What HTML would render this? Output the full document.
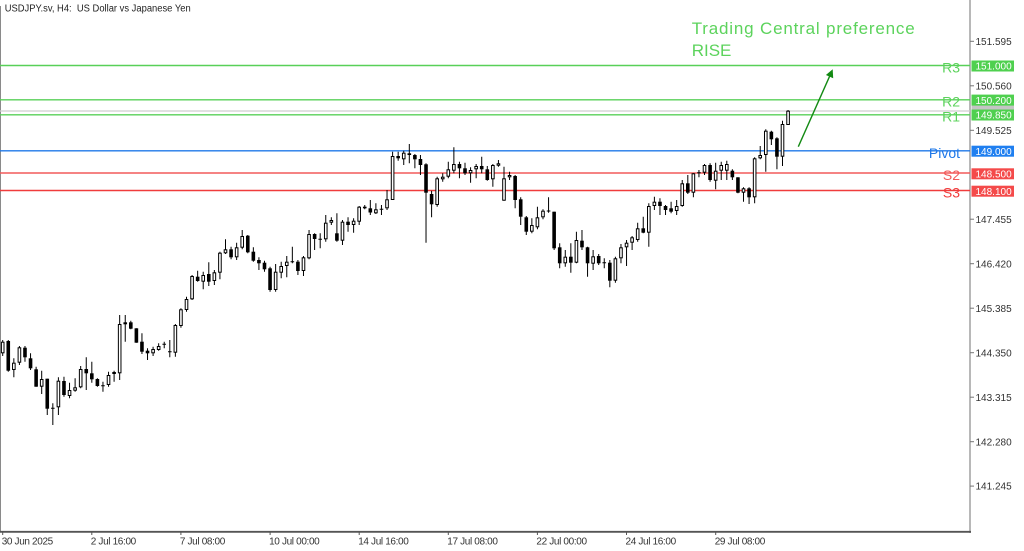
<!DOCTYPE html>
<html>
<head>
<meta charset="utf-8">
<style>
html,body{margin:0;padding:0;background:#fff;overflow:hidden;}
svg{display:block;}
text{font-family:"Liberation Sans",sans-serif;}
</style>
</head>
<body>
<svg width="1024" height="551" viewBox="0 0 1024 551" xmlns="http://www.w3.org/2000/svg">
<rect x="0" y="0" width="1024" height="551" fill="#fff"/>
<!-- frame -->
<line x1="0.5" y1="6" x2="0.5" y2="532" stroke="#8a8a8a" stroke-width="1"/>
<line x1="970" y1="0" x2="970" y2="533" stroke="#a0a0a0" stroke-width="1.5"/>
<line x1="0" y1="531.8" x2="971" y2="531.8" stroke="#555" stroke-width="1.8"/>

<!-- title -->
<text x="4.7" y="11.7" font-size="10" fill="#222" textLength="186" lengthAdjust="spacingAndGlyphs" xml:space="preserve">USDJPY.sv, H4:  US Dollar vs Japanese Yen</text>

<!-- level lines -->
<line x1="0" y1="65.5" x2="970" y2="65.5" stroke="#58d058" stroke-width="1.4"/>
<line x1="0" y1="99.8" x2="970" y2="99.8" stroke="#58d058" stroke-width="1.4"/>
<line x1="0" y1="111" x2="970" y2="111" stroke="#cfcfcf" stroke-width="1.2"/>
<line x1="0" y1="114.8" x2="970" y2="114.8" stroke="#58d058" stroke-width="1.4"/>
<line x1="0" y1="150.8" x2="970" y2="150.8" stroke="#1f78e8" stroke-width="1.4"/>
<line x1="0" y1="173" x2="970" y2="173" stroke="#f25a5a" stroke-width="1.4"/>
<line x1="0" y1="190.5" x2="970" y2="190.5" stroke="#f03c3c" stroke-width="1.4"/>

<!-- wicks -->
<path fill="none" stroke="#000" stroke-width="1" d="M2.7 340V356M8.27 340V371.7M13.84 358.3V377.3M19.41 346V365M24.98 346V361.7M30.55 353.3V370M36.12 366.7V386.7M41.69 370.7V394M47.26 378.7V415M52.83 403.3V425M58.4 377.3V415M63.97 376.7V396.7M69.54 382.7V398.3M75.11 378.3V391.7M80.68 366V388.3M86.25 357.3V390M91.82 361.7V382.7M97.39 378.3V386.7M102.96 381.7V391.7M108.53 371.7V386.7M114.1 370.7V381.7M119.67 315V380M125.24 315V341.7M130.81 320.7V329.3M136.38 328.3V342.7M141.95 333.3V354M147.52 348.3V360M153.09 346.7V356M158.66 343.3V350.7M164.23 341.7V348.3M169.8 340V357.3M175.37 324V356.7M180.94 308.3V327.7M186.51 296.7V311.7M192.08 275V300M197.65 270.7V281.7M203.22 271.7V289.3M208.79 262.3V286M214.36 270V285M219.93 251.7V279.3M225.5 239.3V254M231.07 246.7V259.3M236.64 242.7V260M242.21 230V249.3M247.78 235V253.3M253.35 247.3V261.7M258.92 257.3V270M264.49 260.7V271.7M270.06 266.7V291.7M275.63 264V291.7M281.2 261.7V278.3M286.77 256V277.3M292.34 246.7V263.3M297.91 260V275M303.48 256V276M309.05 230V259.3M314.62 233.3V250M320.19 233.3V248.3M325.76 215V241.7M331.33 217.3V225M336.9 213.3V241.7M342.47 220V245M348.04 217.3V231.7M353.61 218.3V232.7M359.18 206V225M364.75 205V209.3M370.32 200V215M375.89 203.3V214M381.46 205V215M387.03 190V210M392.6 151.7V200M398.17 151.7V160.7M403.74 150.7V165M409.31 144V163.3M414.88 154V168.3M420.45 155V175M426.02 163.3V242.7M431.59 190.7V217.3M437.16 176.7V206.7M442.73 173.3V181.7M448.3 161.7V178.3M453.87 147.3V173.3M459.44 161.7V178.3M465.01 162.7V175M470.58 167.3V182.7M476.15 164V178.3M481.72 156.7V173.3M487.29 166V180.7M492.86 164V186.7M498.43 160V166.7M504 166.7V200.7M509.57 171.7V180M515.14 175V208.3M520.71 197.3V225M526.28 216V235M531.85 218.3V233.3M537.42 206.7V229.3M542.99 209.3V219.3M548.56 197.3V212.7M554.13 211.7V250M559.7 243.3V268.3M565.27 250V266.7M570.84 243.3V272.7M576.41 231.7V263.3M581.98 230V250M587.55 246.7V276.7M593.12 250V270M598.69 254V265M604.26 258.3V268.3M609.83 260V287.3M615.4 256.7V282.7M620.97 244V263.3M626.54 240V266M632.11 236V250M637.68 222.7V241.7M643.25 216.7V233.3M648.82 203.3V246.7M654.39 196.7V210M659.96 198.3V215M665.53 205V215M671.1 201.7V213.3M676.67 200V215M682.24 180V206.7M687.81 175V194M693.38 173.3V197.3M698.95 170V177.3M704.52 164V175M710.09 163.3V181.7M715.66 162.7V189.3M721.23 161.7V180M726.8 160.7V180M732.37 169.3V180M737.94 177.3V193.3M743.51 187.3V201.7M749.08 187.3V204M754.65 157.3V203.3M760.22 146V159.3M765.79 129.3V171.7M771.36 130.7V145M776.93 137.3V169.3M782.5 120.7V166M788.07 110V125"/>

<!-- doji bars -->
<path fill="none" stroke="#000" stroke-width="1" d="M51.03 408.3h3.6M101.16 385.7h3.6M162.43 344.3h3.6M168 351.7h3.6M290.54 261.7h3.6M318.39 239.3h3.6M379.66 209.3h3.6M546.76 211h3.6M602.46 262.7h3.6M697.15 172.7h3.6"/>

<!-- black bodies -->
<g fill="#000">
<rect x="6.47" y="341" width="3.6" height="29.7"/>
<rect x="23.18" y="347.7" width="3.6" height="9.6"/>
<rect x="28.75" y="358.3" width="3.6" height="10"/>
<rect x="34.32" y="369.3" width="3.6" height="17.4"/>
<rect x="45.46" y="378.7" width="3.6" height="30"/>
<rect x="62.17" y="381" width="3.6" height="14"/>
<rect x="84.45" y="369" width="3.6" height="4.3"/>
<rect x="90.02" y="373.3" width="3.6" height="6"/>
<rect x="95.59" y="379" width="3.6" height="7"/>
<rect x="129.01" y="322.3" width="3.6" height="6.4"/>
<rect x="134.58" y="328.3" width="3.6" height="14.4"/>
<rect x="140.15" y="341.7" width="3.6" height="10"/>
<rect x="145.72" y="350.7" width="3.6" height="2.6"/>
<rect x="195.85" y="276.7" width="3.6" height="4.3"/>
<rect x="206.99" y="274" width="3.6" height="7.7"/>
<rect x="229.27" y="249.3" width="3.6" height="8"/>
<rect x="245.98" y="235.7" width="3.6" height="16.6"/>
<rect x="251.55" y="251.7" width="3.6" height="9"/>
<rect x="257.12" y="260" width="3.6" height="3.3"/>
<rect x="262.69" y="262.7" width="3.6" height="6.6"/>
<rect x="268.26" y="268.3" width="3.6" height="21.7"/>
<rect x="296.11" y="261.7" width="3.6" height="9.3"/>
<rect x="312.82" y="234" width="3.6" height="5"/>
<rect x="335.1" y="233.3" width="3.6" height="7.4"/>
<rect x="346.24" y="221.7" width="3.6" height="3.3"/>
<rect x="362.95" y="206.7" width="3.6" height="1.6"/>
<rect x="368.52" y="208.3" width="3.6" height="4.2"/>
<rect x="396.37" y="156" width="3.6" height="2.3"/>
<rect x="407.51" y="153.3" width="3.6" height="1.7"/>
<rect x="413.08" y="155" width="3.6" height="4.3"/>
<rect x="418.65" y="159" width="3.6" height="6"/>
<rect x="424.22" y="164.3" width="3.6" height="28.4"/>
<rect x="429.79" y="194" width="3.6" height="10.3"/>
<rect x="457.64" y="164" width="3.6" height="4.3"/>
<rect x="463.21" y="168.3" width="3.6" height="5"/>
<rect x="479.92" y="166" width="3.6" height="3.3"/>
<rect x="485.49" y="169.3" width="3.6" height="10.7"/>
<rect x="513.34" y="176" width="3.6" height="24"/>
<rect x="518.91" y="199.3" width="3.6" height="17.4"/>
<rect x="524.48" y="217.3" width="3.6" height="14.4"/>
<rect x="552.33" y="211.7" width="3.6" height="36.6"/>
<rect x="557.9" y="247.3" width="3.6" height="16"/>
<rect x="569.04" y="256.7" width="3.6" height="6"/>
<rect x="580.18" y="240.7" width="3.6" height="6.6"/>
<rect x="585.75" y="247.3" width="3.6" height="16"/>
<rect x="596.89" y="256" width="3.6" height="7.3"/>
<rect x="608.03" y="262.7" width="3.6" height="18"/>
<rect x="641.45" y="228.3" width="3.6" height="4.4"/>
<rect x="658.16" y="201.7" width="3.6" height="4.3"/>
<rect x="663.73" y="206" width="3.6" height="4"/>
<rect x="669.3" y="208.3" width="3.6" height="3.4"/>
<rect x="686.01" y="183.3" width="3.6" height="9.4"/>
<rect x="708.29" y="165" width="3.6" height="15"/>
<rect x="730.57" y="170.7" width="3.6" height="6.6"/>
<rect x="736.14" y="177.3" width="3.6" height="15.4"/>
<rect x="747.28" y="188.3" width="3.6" height="9"/>
<rect x="769.56" y="131.7" width="3.6" height="7.6"/>
<rect x="775.13" y="138.3" width="3.6" height="18.4"/>
</g>

<!-- white bodies -->
<g fill="#fff" stroke="#000" stroke-width="1">
<rect x="1.4" y="342.2" width="2.6" height="10.6"/>
<rect x="12.54" y="363.2" width="2.6" height="6.3"/>
<rect x="18.11" y="347.8" width="2.6" height="14.4"/>
<rect x="40.39" y="379.5" width="2.6" height="6.7"/>
<rect x="57.1" y="381.2" width="2.6" height="25.6"/>
<rect x="68.24" y="390.5" width="2.6" height="5"/>
<rect x="73.81" y="387.8" width="2.6" height="2.4"/>
<rect x="79.38" y="369.5" width="2.6" height="17.3"/>
<rect x="107.23" y="375.5" width="2.6" height="9"/>
<rect x="112.8" y="372.5" width="2.6" height="1"/>
<rect x="118.37" y="324.5" width="2.6" height="48.3"/>
<rect x="123.94" y="322.8" width="2.6" height="1"/>
<rect x="151.79" y="349.5" width="2.6" height="3.3"/>
<rect x="157.36" y="346.5" width="2.6" height="3"/>
<rect x="174.07" y="325.5" width="2.6" height="26.7"/>
<rect x="179.64" y="309.8" width="2.6" height="15.7"/>
<rect x="185.21" y="299.5" width="2.6" height="10"/>
<rect x="190.78" y="276.5" width="2.6" height="22.3"/>
<rect x="201.92" y="275.5" width="2.6" height="5.7"/>
<rect x="213.06" y="272.8" width="2.6" height="7.7"/>
<rect x="218.63" y="253.2" width="2.6" height="19"/>
<rect x="224.2" y="249.8" width="2.6" height="3"/>
<rect x="235.34" y="247.8" width="2.6" height="9"/>
<rect x="240.91" y="236.5" width="2.6" height="10.7"/>
<rect x="274.33" y="272.2" width="2.6" height="17.3"/>
<rect x="279.9" y="266.5" width="2.6" height="5.7"/>
<rect x="285.47" y="262.2" width="2.6" height="3.3"/>
<rect x="302.18" y="257.8" width="2.6" height="12.7"/>
<rect x="307.75" y="234.5" width="2.6" height="23.3"/>
<rect x="324.46" y="223.2" width="2.6" height="15.6"/>
<rect x="330.03" y="220.5" width="2.6" height="1.7"/>
<rect x="341.17" y="222.2" width="2.6" height="18"/>
<rect x="352.31" y="221.2" width="2.6" height="3.3"/>
<rect x="357.88" y="207.2" width="2.6" height="14"/>
<rect x="374.59" y="209.8" width="2.6" height="3"/>
<rect x="385.73" y="199.8" width="2.6" height="8"/>
<rect x="391.3" y="156.5" width="2.6" height="43"/>
<rect x="402.44" y="153.2" width="2.6" height="5.6"/>
<rect x="435.86" y="178.8" width="2.6" height="25.7"/>
<rect x="441.43" y="177.2" width="2.6" height="1.6"/>
<rect x="447" y="169.8" width="2.6" height="6.4"/>
<rect x="452.57" y="164.5" width="2.6" height="5.7"/>
<rect x="469.28" y="170.5" width="2.6" height="2.3"/>
<rect x="474.85" y="166.5" width="2.6" height="2.3"/>
<rect x="491.56" y="165.5" width="2.6" height="13.3"/>
<rect x="497.13" y="163.8" width="2.6" height="1.4"/>
<rect x="502.7" y="178.8" width="2.6" height="21.4"/>
<rect x="508.27" y="175.5" width="2.6" height="1.3"/>
<rect x="530.55" y="225.5" width="2.6" height="5.7"/>
<rect x="536.12" y="217.8" width="2.6" height="9"/>
<rect x="541.69" y="211.2" width="2.6" height="5.6"/>
<rect x="563.97" y="257.2" width="2.6" height="5.6"/>
<rect x="575.11" y="240.5" width="2.6" height="21.7"/>
<rect x="591.82" y="256.8" width="2.6" height="6.4"/>
<rect x="614.1" y="258.8" width="2.6" height="21.4"/>
<rect x="619.67" y="247.8" width="2.6" height="10"/>
<rect x="625.24" y="243.2" width="2.6" height="3.6"/>
<rect x="630.81" y="237.8" width="2.6" height="4.4"/>
<rect x="636.38" y="228.8" width="2.6" height="10.7"/>
<rect x="647.52" y="206.5" width="2.6" height="25.7"/>
<rect x="653.09" y="202.2" width="2.6" height="3.3"/>
<rect x="675.37" y="206.5" width="2.6" height="4"/>
<rect x="680.94" y="183.8" width="2.6" height="21.7"/>
<rect x="692.08" y="173.8" width="2.6" height="18.4"/>
<rect x="703.22" y="165.5" width="2.6" height="6.7"/>
<rect x="714.36" y="171.2" width="2.6" height="9"/>
<rect x="719.93" y="165.5" width="2.6" height="4.7"/>
<rect x="725.5" y="164.5" width="2.6" height="5.7"/>
<rect x="742.21" y="188.8" width="2.6" height="3.4"/>
<rect x="753.35" y="158.8" width="2.6" height="38"/>
<rect x="758.92" y="155.5" width="2.6" height="2.3"/>
<rect x="764.49" y="131.2" width="2.6" height="23.3"/>
<rect x="781.2" y="124.5" width="2.6" height="31.7"/>
<rect x="786.77" y="111.2" width="2.6" height="13.3"/>
</g>

<!-- arrow -->
<line x1="798.3" y1="146.7" x2="829.6" y2="76.3" stroke="#138a13" stroke-width="1.4"/>
<polygon points="832.7,69.3 833.2,78.2 825.9,75" fill="#138a13"/>

<!-- preference text -->
<text x="691.7" y="34" font-size="17" fill="#5cd35c" textLength="223" lengthAdjust="spacing">Trading Central preference</text>
<text x="691.7" y="56" font-size="17" fill="#5cd35c">RISE</text>

<!-- level names -->
<g font-size="14" text-anchor="end">
<text x="960" y="72.5" fill="#5cd35c">R3</text>
<text x="960" y="106.5" fill="#5cd35c">R2</text>
<text x="960" y="121.5" fill="#5cd35c">R1</text>
<text x="960" y="158" fill="#1f78e8">Pivot</text>
<text x="960" y="180" fill="#f25a5a">S2</text>
<text x="960" y="197.5" fill="#f03c3c">S3</text>
</g>

<!-- price axis ticks -->
<g stroke="#777" stroke-width="1">
<line x1="970" y1="41.3" x2="974" y2="41.3"/>
<line x1="970" y1="85.8" x2="974" y2="85.8"/>
<line x1="970" y1="130.3" x2="974" y2="130.3"/>
<line x1="970" y1="219.2" x2="974" y2="219.2"/>
<line x1="970" y1="263.7" x2="974" y2="263.7"/>
<line x1="970" y1="308.2" x2="974" y2="308.2"/>
<line x1="970" y1="352.7" x2="974" y2="352.7"/>
<line x1="970" y1="397.2" x2="974" y2="397.2"/>
<line x1="970" y1="441.7" x2="974" y2="441.7"/>
<line x1="970" y1="486.1" x2="974" y2="486.1"/>
</g>
<g font-size="10" fill="#333">
<text x="975.5" y="44.9">151.595</text>
<text x="975.5" y="89.4">150.560</text>
<text x="975.5" y="133.9">149.525</text>
<text x="975.5" y="222.8">147.455</text>
<text x="975.5" y="267.3">146.420</text>
<text x="975.5" y="311.8">145.385</text>
<text x="975.5" y="356.3">144.350</text>
<text x="975.5" y="400.8">143.315</text>
<text x="975.5" y="445.3">142.280</text>
<text x="975.5" y="489.7">141.245</text>
</g>

<!-- price label boxes -->
<rect x="971.5" y="105.5" width="42.5" height="11" fill="#c4c4c4"/>
<rect x="971.5" y="60.5" width="42.5" height="11" fill="#4fd04f"/>
<rect x="971.5" y="94.6" width="42.5" height="11" fill="#4fd04f"/>
<rect x="971.5" y="109.5" width="42.5" height="11" fill="#4fd04f"/>
<rect x="971.5" y="145.7" width="42.5" height="11" fill="#1f7ff0"/>
<rect x="971.5" y="168.3" width="42.5" height="11" fill="#f44a4a"/>
<rect x="971.5" y="185.7" width="42.5" height="11" fill="#f44a4a"/>
<g font-size="10" fill="#fff">
<text x="975.5" y="69.7">151.000</text>
<text x="975.5" y="103.8">150.200</text>
<text x="975.5" y="118.7">149.850</text>
<text x="975.5" y="154.9">149.000</text>
<text x="975.5" y="177.5">148.500</text>
<text x="975.5" y="194.9">148.100</text>
</g>

<!-- time axis -->
<g stroke="#555" stroke-width="1">
<line x1="2.7" y1="532" x2="2.7" y2="535"/>
<line x1="91.8" y1="532" x2="91.8" y2="535"/>
<line x1="180.9" y1="532" x2="180.9" y2="535"/>
<line x1="270.1" y1="532" x2="270.1" y2="535"/>
<line x1="359.2" y1="532" x2="359.2" y2="535"/>
<line x1="448.3" y1="532" x2="448.3" y2="535"/>
<line x1="537.4" y1="532" x2="537.4" y2="535"/>
<line x1="626.5" y1="532" x2="626.5" y2="535"/>
<line x1="715.7" y1="532" x2="715.7" y2="535"/>
</g>
<g font-size="10" fill="#333" letter-spacing="-0.35">
<text x="1.7" y="544.5">30 Jun 2025</text>
<text x="90.8" y="544.5">2 Jul 16:00</text>
<text x="179.9" y="544.5">7 Jul 08:00</text>
<text x="269.1" y="544.5">10 Jul 00:00</text>
<text x="358.2" y="544.5">14 Jul 16:00</text>
<text x="447.3" y="544.5">17 Jul 08:00</text>
<text x="536.4" y="544.5">22 Jul 00:00</text>
<text x="625.5" y="544.5">24 Jul 16:00</text>
<text x="714.7" y="544.5">29 Jul 08:00</text>
</g>
</svg>
</body>
</html>
